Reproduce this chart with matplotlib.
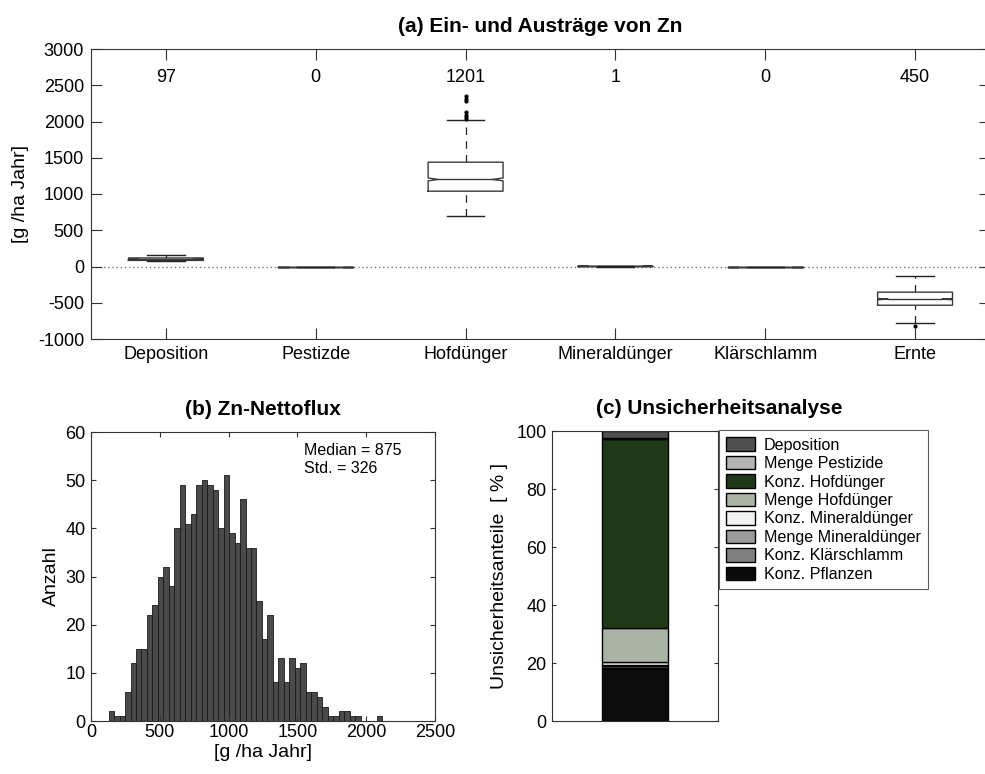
import numpy as np
import matplotlib
matplotlib.use("Agg")
import matplotlib.pyplot as plt

plt.rcParams['font.family'] = ['Liberation Sans', 'DejaVu Sans']
plt.rcParams['axes.unicode_minus'] = False

# (a) box plot data
categories = ['Deposition', 'Pestizde', 'Hofdünger', 'Mineraldünger', 'Klärschlamm', 'Ernte']
median_labels = ['97', '0', '1201', '1', '0', '450']
box_lo = [72, 0, 703, 0, 0, -777]
box_q1 = [84, 0, 1039, 0, 0, -534]
box_med = [97, 0, 1201, 1, 0, -450]
box_q3 = [118, 0, 1439, 1, 0, -354]
box_hi = [152, 0, 2023, 1, 0, -134]
box_out = [[], [], [2030, 2060, 2090, 2130, 2280, 2310, 2350], [], [], [-823]]
n_runs = 1000

# (b) histogram of the net flux
bin_lo, bin_hi = 128, 2118
hist_counts = [2, 1, 1, 6, 12, 15, 15, 22, 24, 30, 32, 28, 40, 49, 41, 43, 49, 50, 49, 48,
               40, 51, 39, 37, 46, 36, 36, 25, 17, 22, 8, 13, 8, 13, 11, 12, 6, 6, 5, 3,
               1, 1, 2, 2, 1, 1, 0, 0, 0, 1]
flux_median = 875
flux_std = 326

# (c) uncertainty shares, bottom to top
share_names = ['Konz. Pflanzen', 'Konz. Klärschlamm', 'Menge Mineraldünger',
               'Konz. Mineraldünger', 'Menge Hofdünger', 'Konz. Hofdünger',
               'Menge Pestizide', 'Deposition']
share_values = [18.4, 0.4, 0.5, 0.9, 11.7, 65.2, 0.4, 2.5]
share_colors = ['#0b0b0b', '#808080', '#9a9a9a', '#f2f2f2', '#a9b3a6', '#1e3818',
                '#b4b4b4', '#4f4f4f']

fig = plt.figure(figsize=(9.85, 7.74), dpi=100)

spine_col = '#333333'


def style(ax, ticklen):
    ax.tick_params(direction='in', top=True, right=True, length=ticklen,
                   labelsize=13, color=spine_col, width=0.8)
    for s in ax.spines.values():
        s.set_color(spine_col)
        s.set_linewidth(0.8)


def draw_box(ax, pos, lo, q1, med, q3, hi, out):
    w = 0.25
    ind = 0.07
    ci = 1.57 * (q3 - q1) / np.sqrt(n_runs)
    xs = [pos - w, pos - w, pos - w + ind, pos - w, pos - w, pos + w, pos + w,
          pos + w - ind, pos + w, pos + w, pos - w]
    ys = [q1, med - ci, med, med + ci, q3, q3, med + ci, med, med - ci, q1, q1]
    ax.plot(xs, ys, color='#3a3a3a', lw=1.0, zorder=3)
    ax.plot([pos - w + ind, pos + w - ind], [med, med], color='#3a3a3a', lw=1.0, zorder=3)
    ax.plot([pos, pos], [q3, hi], color='#222222', lw=0.9, ls=(0, (6, 5)), zorder=2)
    ax.plot([pos, pos], [lo, q1], color='#222222', lw=0.9, ls=(0, (6, 5)), zorder=2)
    ax.plot([pos - w / 2, pos + w / 2], [hi, hi], color='#222222', lw=1.0, zorder=3)
    ax.plot([pos - w / 2, pos + w / 2], [lo, lo], color='#222222', lw=1.0, zorder=3)
    if out:
        ax.plot([pos] * len(out), out, 'o', color='black', ms=2.0, zorder=4)


# ---- (a) ----
ax1 = fig.add_axes([91 / 985, 1 - 339 / 774, 899 / 985, 290 / 774])
positions = np.arange(1, len(categories) + 1)
ax1.axhline(0, color='#777777', lw=1.0, ls=(0, (1, 2)), zorder=1)
for i, p in enumerate(positions):
    draw_box(ax1, p, box_lo[i], box_q1[i], box_med[i], box_q3[i], box_hi[i], box_out[i])
    ax1.text(p, 2600, median_labels[i], ha='center', va='center', fontsize=13)
ax1.set_xlim(0.5, 6.5)
ax1.set_ylim(-1000, 3000)
ax1.set_yticks(np.arange(-1000, 3001, 500))
ax1.set_xticks(positions)
ax1.set_xticklabels(categories)
style(ax1, 8)
ax1.tick_params(axis='y', pad=5)
ax1.tick_params(axis='x', pad=5)
ax1.set_ylabel('[g /ha Jahr]', fontsize=14, labelpad=6)
ax1.set_title('(a) Ein- und Austräge von Zn', fontsize=15, fontweight='bold', pad=12)

# ---- (b) ----
ax2 = fig.add_axes([91 / 985, 1 - 721 / 774, 344 / 985, 289 / 774])
edges = np.linspace(bin_lo, bin_hi, len(hist_counts) + 1)
ax2.bar(edges[:-1], hist_counts, width=np.diff(edges), align='edge',
        color='#4a4a4a', edgecolor='#1a1a1a', linewidth=0.6)
ax2.set_xlim(0, 2500)
ax2.set_ylim(0, 60)
ax2.set_xticks(np.arange(0, 2501, 500))
ax2.set_yticks(np.arange(0, 61, 10))
style(ax2, 3.5)
ax2.tick_params(axis='x', pad=2)
ax2.tick_params(axis='y', pad=4)
ax2.set_ylabel('Anzahl', fontsize=14, labelpad=4)
ax2.set_xlabel('[g /ha Jahr]', fontsize=14, labelpad=2)
ax2.set_title('(b) Zn-Nettoflux', fontsize=15, fontweight='bold', pad=12)
ax2.text(1545, 57.8, 'Median = %d\nStd. = %d' % (flux_median, flux_std),
         fontsize=11.5, va='top', ha='left', linespacing=1.25)

# ---- (c) ----
ax3 = fig.add_axes([552 / 985, 1 - 721 / 774, 166 / 985, 290 / 774])
bottom = 0
handles = []
for name, val, col in zip(share_names, share_values, share_colors):
    h = ax3.bar(1, val, width=0.8, bottom=bottom, color=col, edgecolor='black',
                linewidth=1.0, label=name)
    handles.append(h)
    bottom += val
ax3.set_xlim(0, 2)
ax3.set_ylim(0, 100)
ax3.set_xticks([])
ax3.set_yticks(np.arange(0, 101, 20))
style(ax3, 3)
ax3.tick_params(axis='y', pad=4)
ax3.set_ylabel('Unsicherheitsanteile  [ % ]', fontsize=14, labelpad=6)
ax3.set_title('(c) Unsicherheitsanalyse', fontsize=15, fontweight='bold', pad=12, x=1.01)
leg = ax3.legend(handles[::-1], share_names[::-1], loc='upper left',
                 bbox_to_anchor=(1.006, 1.003), borderaxespad=0, fontsize=11.6,
                 frameon=True, fancybox=False, edgecolor=spine_col,
                 handlelength=1.8, handleheight=0.9, handletextpad=0.55,
                 labelspacing=0.2, borderpad=0.45)
leg.get_frame().set_linewidth(0.8)

fig.savefig('out.png', dpi=100)
